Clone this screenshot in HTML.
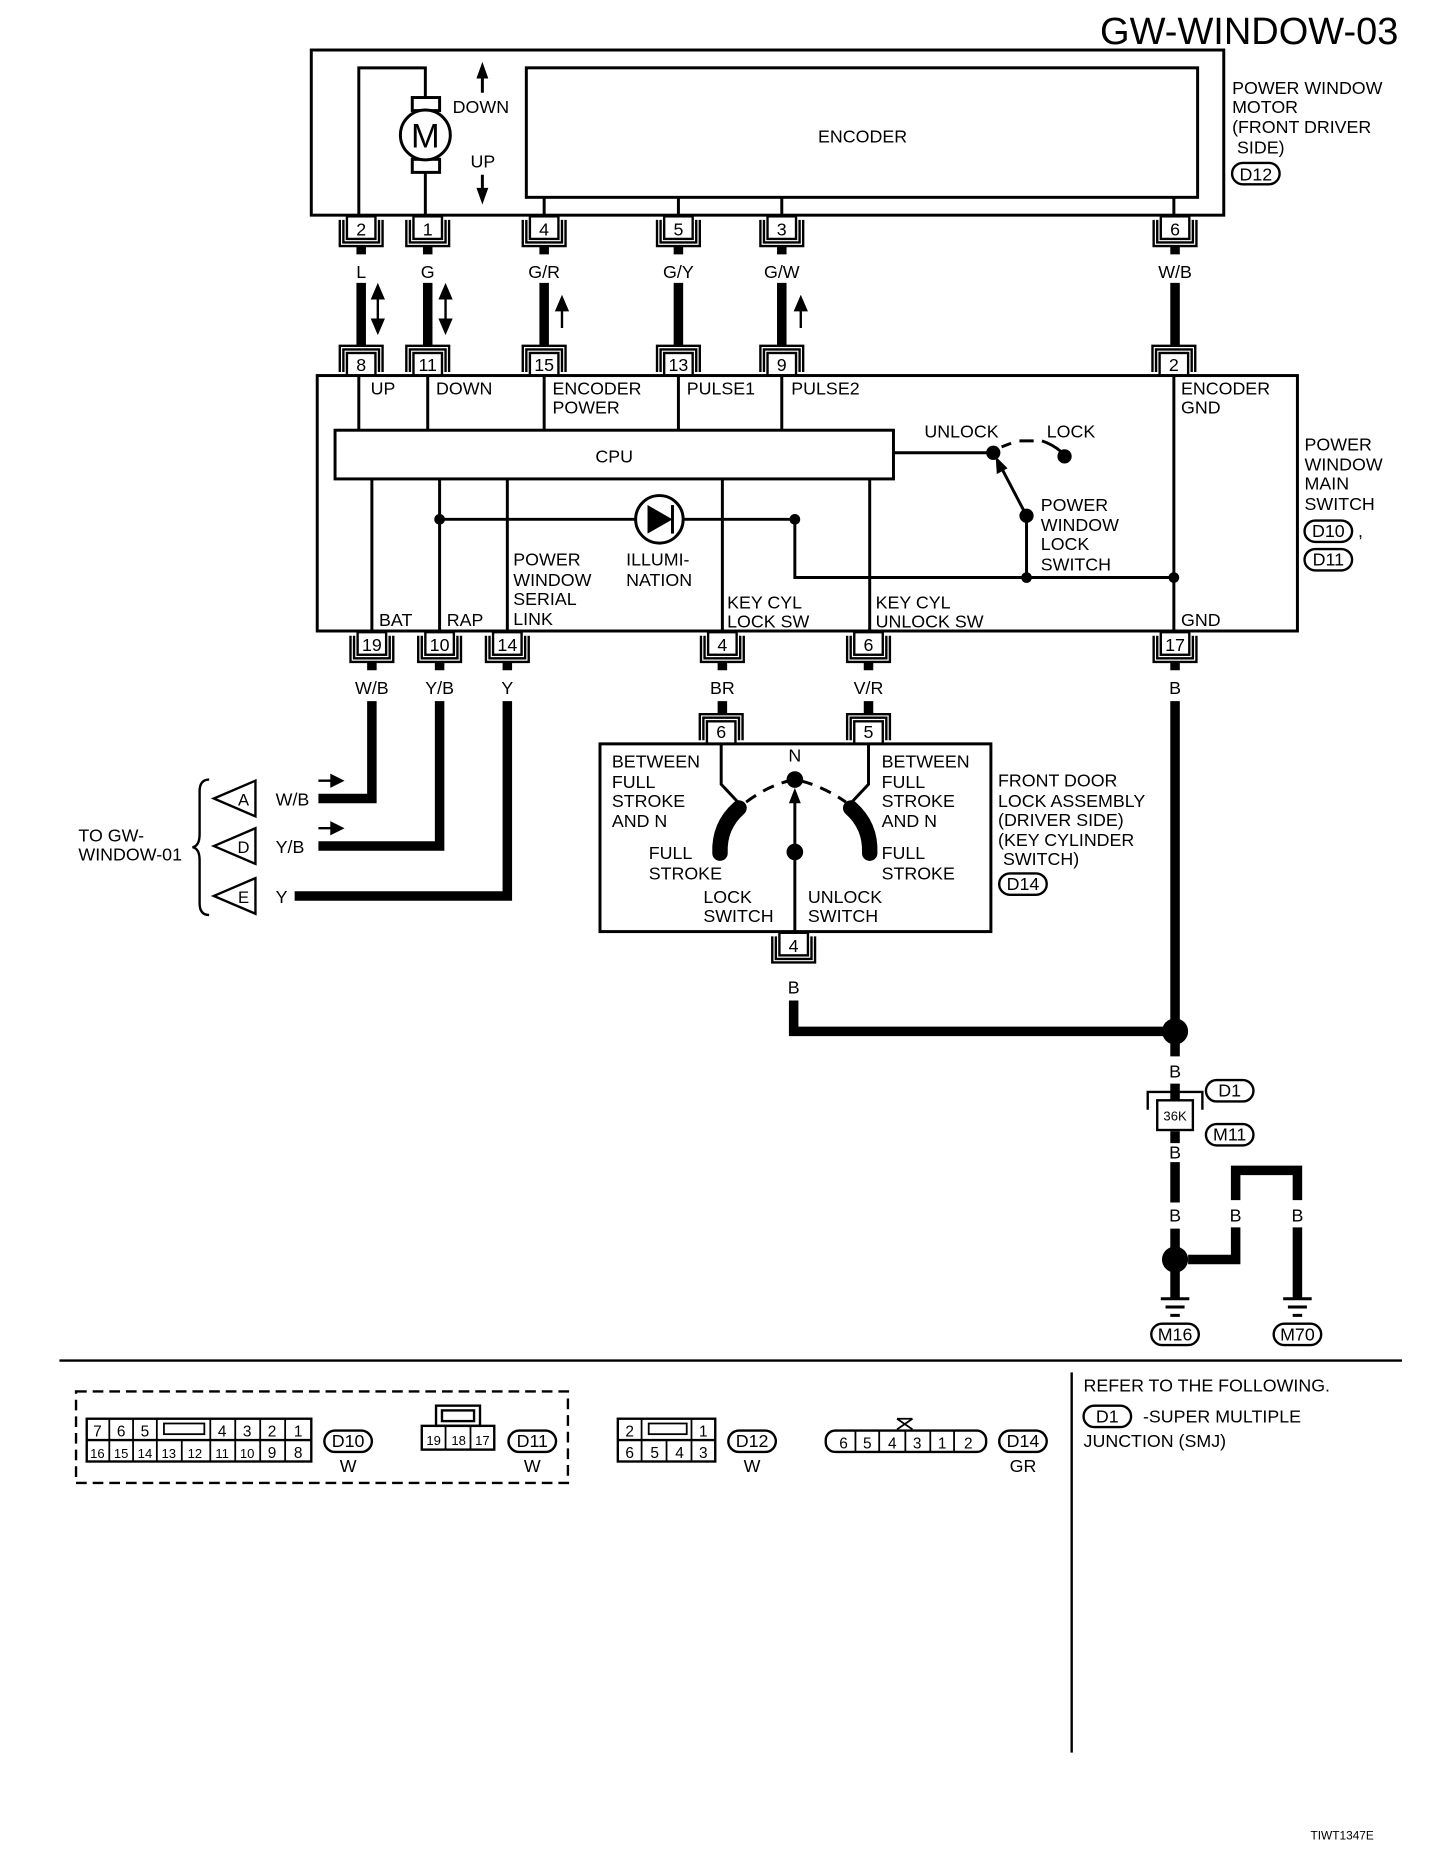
<!DOCTYPE html>
<html><head><meta charset="utf-8"><style>
html,body{margin:0;padding:0;background:#fff;}
svg{display:block;}
text{font-family:"Liberation Sans",Arial,sans-serif;fill:#000;}
</style></head><body>
<svg width="1440" height="1862" viewBox="0 0 1212 1567" xmlns="http://www.w3.org/2000/svg">
<defs>
<g id="ch" fill="none" stroke="#000" stroke-width="2">
<rect x="-12" y="0" width="24" height="19" fill="#fff"/>
<path d="M-18,3 V25 H18 V3 M-15,3 V22 H15 V3"/>
</g>
<g id="cu" fill="none" stroke="#000" stroke-width="2">
<rect x="-12" y="-19" width="24" height="19" fill="#fff"/>
<path d="M-18,-3 V-25 H18 V-3 M-15,-3 V-22 H15 V-3"/>
</g>
</defs>

<g font-size="15">
<text x="1177" y="37" font-size="32" text-anchor="end">GW-WINDOW-03</text>

<g fill="none" stroke="#000" stroke-width="2.5">
<rect x="262" y="42" width="768" height="139"/>
<rect x="443" y="57" width="565" height="109"/>
<path d="M302,181 V57 H358 V82 M358,145 V181"/>
<rect x="347" y="82" width="23" height="11" fill="#fff"/>
<rect x="347" y="134" width="23" height="11" fill="#fff"/>
<circle cx="358" cy="113.5" r="21" fill="#fff"/>
<path d="M458,166 V181 M571,166 V181 M658,166 V181 M988,166 V181"/>
<path d="M406,57 V78 M406,147 V166"/>
</g>
<path d="M406,52 l-5,14 h10z M406,172 l-5,-14 h10z"/>
<text x="358" y="124" font-size="29" text-anchor="middle">M</text>
<text x="381" y="95">DOWN</text>
<text x="396" y="141">UP</text>
<text x="726" y="120" text-anchor="middle">ENCODER</text>

<g>
<use href="#ch" x="304" y="182"/><text x="304" y="198" text-anchor="middle">2</text>
<use href="#ch" x="360" y="182"/><text x="360" y="198" text-anchor="middle">1</text>
<use href="#ch" x="458" y="182"/><text x="458" y="198" text-anchor="middle">4</text>
<use href="#ch" x="571" y="182"/><text x="571" y="198" text-anchor="middle">5</text>
<use href="#ch" x="658" y="182"/><text x="658" y="198" text-anchor="middle">3</text>
<use href="#ch" x="989" y="182"/><text x="989" y="198" text-anchor="middle">6</text>
</g>
<text x="1037" y="79">POWER WINDOW</text>
<text x="1037" y="95">MOTOR</text>
<text x="1037" y="112">(FRONT DRIVER</text>
<text x="1037" y="129">&#160;SIDE)</text>
<rect x="1037" y="137" width="40" height="18" rx="9" fill="none" stroke="#000" stroke-width="2"/><text x="1057" y="152" text-anchor="middle">D12</text>

<g stroke="#000" stroke-width="8">
<path d="M304,207 V214 M304,238 V291 M360,207 V214 M360,238 V291 M458,207 V214 M458,238 V291 M571,207 V214 M571,238 V291 M658,207 V214 M658,238 V291 M989,207 V214 M989,238 V291"/>
</g>
<g text-anchor="middle">
<text x="304" y="234">L</text><text x="360" y="234">G</text><text x="458" y="234">G/R</text><text x="571" y="234">G/Y</text><text x="658" y="234">G/W</text><text x="989" y="234">W/B</text>
</g>
<g stroke="#000" stroke-width="2"><path d="M318,250 V270 M375,250 V270 M473,258 V276 M674,258 V276"/></g>
<path d="M318,238 l-6,14 h12z M318,282 l-6,-14 h12z M375,238 l-6,14 h12z M375,282 l-6,-14 h12z M473,248 l-6,14 h12z M674,248 l-6,14 h12z"/>

<g>
<use href="#cu" x="304" y="316"/><text x="304" y="312" text-anchor="middle">8</text>
<use href="#cu" x="360" y="316"/><text x="360" y="312" text-anchor="middle">11</text>
<use href="#cu" x="458" y="316"/><text x="458" y="312" text-anchor="middle">15</text>
<use href="#cu" x="571" y="316"/><text x="571" y="312" text-anchor="middle">13</text>
<use href="#cu" x="658" y="316"/><text x="658" y="312" text-anchor="middle">9</text>
<use href="#cu" x="988" y="316"/><text x="988" y="312" text-anchor="middle">2</text>
</g>

<g fill="none" stroke="#000" stroke-width="2.5">
<rect x="267" y="316" width="825" height="215"/>
<rect x="282" y="362" width="470" height="41" fill="#fff"/>
<path d="M302,316 V362 M360,316 V362 M458,316 V362 M571,316 V362 M658,316 V362 M988,316 V531"/>
<path d="M313,403 V531 M370,403 V531 M427,403 V531 M608,403 V531 M732,403 V531"/>
<path d="M370,437 H669 V486 H988 M864,486 V434 L842,392 M752,381 H835"/>
<circle cx="555" cy="437" r="20" fill="#fff"/>
<path d="M843,376 L851,373 M858,371 H870 M877,371 Q886,374 893,380"/>
</g>
<path d="M545,425 V449 L566,437z"/><path d="M566,425 V449" stroke="#000" stroke-width="2.5"/>
<path d="M838,384 l1,15 l9,-5z"/>
<g>
<circle cx="370" cy="437" r="4.5"/><circle cx="669" cy="437" r="4.5"/><circle cx="864" cy="486" r="4.5"/><circle cx="988" cy="486" r="4.5"/><circle cx="864" cy="434" r="6"/><circle cx="836" cy="381" r="6"/><circle cx="896" cy="384" r="6"/>
</g>
<text x="312" y="332">UP</text><text x="367" y="332">DOWN</text>
<text x="465" y="332">ENCODER</text><text x="465" y="348">POWER</text>
<text x="578" y="332">PULSE1</text><text x="666" y="332">PULSE2</text>
<text x="994" y="332">ENCODER</text><text x="994" y="348">GND</text>
<text x="517" y="389" text-anchor="middle">CPU</text>
<text x="778" y="368">UNLOCK</text><text x="881" y="368">LOCK</text>
<text x="876" y="430">POWER</text><text x="876" y="447">WINDOW</text><text x="876" y="463">LOCK</text><text x="876" y="480">SWITCH</text>
<text x="432" y="476">POWER</text><text x="432" y="493">WINDOW</text><text x="432" y="509">SERIAL</text><text x="432" y="526">LINK</text>
<text x="527" y="476">ILLUMI-</text><text x="527" y="493">NATION</text>
<text x="612" y="512">KEY CYL</text><text x="612" y="528">LOCK SW</text>
<text x="737" y="512">KEY CYL</text><text x="737" y="528">UNLOCK SW</text>
<text x="319" y="527">BAT</text><text x="376" y="527">RAP</text><text x="994" y="527">GND</text>
<text x="1098" y="379">POWER</text><text x="1098" y="396">WINDOW</text><text x="1098" y="412">MAIN</text><text x="1098" y="429">SWITCH</text>
<rect x="1098" y="438" width="40" height="18" rx="9" fill="none" stroke="#000" stroke-width="2"/><text x="1118" y="452" text-anchor="middle">D10</text><text x="1143" y="452">,</text>
<rect x="1098" y="462" width="40" height="18" rx="9" fill="none" stroke="#000" stroke-width="2"/><text x="1118" y="476" text-anchor="middle">D11</text>

<g>
<use href="#ch" x="313" y="532"/><text x="313" y="548" text-anchor="middle">19</text>
<use href="#ch" x="370" y="532"/><text x="370" y="548" text-anchor="middle">10</text>
<use href="#ch" x="427" y="532"/><text x="427" y="548" text-anchor="middle">14</text>
<use href="#ch" x="608" y="532"/><text x="608" y="548" text-anchor="middle">4</text>
<use href="#ch" x="731" y="532"/><text x="731" y="548" text-anchor="middle">6</text>
<use href="#ch" x="989" y="532"/><text x="989" y="548" text-anchor="middle">17</text>
</g>
<g text-anchor="middle">
<text x="313" y="584">W/B</text><text x="370" y="584">Y/B</text><text x="427" y="584">Y</text><text x="608" y="584">BR</text><text x="731" y="584">V/R</text><text x="989" y="584">B</text>
</g>
<g fill="none" stroke="#000" stroke-width="8">
<path d="M313,557 V564 M370,557 V564 M427,557 V564 M608,557 V564 M731,557 V564 M989,557 V564"/>
<path d="M313,590 V672 H268 M370,590 V712 H268 M427,590 V754 H248 M989,590 V868 M608,590 V600 M731,590 V600 M668,842 V868 H989"/>
</g>
<circle cx="989" cy="868" r="11"/>
<g stroke="#000" stroke-width="2"><path d="M268,657 H282 M268,697 H282"/></g>
<path d="M290,657 l-12,-6 v12z M290,697 l-12,-6 v12z"/>
<g fill="#fff" stroke="#000" stroke-width="2">
<path d="M180,672 L215,657 V687z"/><path d="M180,712 L215,697 V727z"/><path d="M180,754 L215,739 V769z"/>
</g>
<text x="205" y="678" text-anchor="middle" font-size="14">A</text><text x="205" y="718" text-anchor="middle" font-size="14">D</text><text x="205" y="760" text-anchor="middle" font-size="14">E</text>
<text x="232" y="678">W/B</text><text x="232" y="718">Y/B</text><text x="232" y="760">Y</text>
<path d="M176,656 Q168,656 168,666 V702 Q168,712 162,713 Q168,714 168,724 V760 Q168,770 176,770" fill="none" stroke="#000" stroke-width="2"/>
<text x="66" y="708">TO GW-</text><text x="66" y="724">WINDOW-01</text>

<use href="#cu" x="607" y="626"/><text x="607" y="621" text-anchor="middle">6</text>
<use href="#cu" x="731" y="626"/><text x="731" y="621" text-anchor="middle">5</text>
<g fill="none" stroke="#000" stroke-width="2.5">
<rect x="505" y="626" width="329" height="158"/>
<path d="M607,626 V660 L622,676 M731,626 V660 L716,676 M669,784 V670"/>
<path d="M628,675 Q648,660 669,656 Q690,660 712,675" stroke-dasharray="10,7"/>
</g>
<path d="M622,680 Q605,695 606,718" fill="none" stroke="#000" stroke-width="13" stroke-linecap="round"/>
<path d="M716,680 Q733,695 732,718" fill="none" stroke="#000" stroke-width="13" stroke-linecap="round"/>
<circle cx="669" cy="656" r="7"/><circle cx="669" cy="717" r="7"/>
<path d="M669,663 l-5,13 h10z"/>
<use href="#ch" x="668" y="785"/><text x="668" y="801" text-anchor="middle">4</text>
<text x="668" y="836" text-anchor="middle">B</text>
<text x="669" y="641" text-anchor="middle">N</text>
<text x="515" y="646">BETWEEN</text><text x="515" y="663">FULL</text><text x="515" y="679">STROKE</text><text x="515" y="696">AND N</text>
<text x="742" y="646">BETWEEN</text><text x="742" y="663">FULL</text><text x="742" y="679">STROKE</text><text x="742" y="696">AND N</text>
<text x="546" y="723">FULL</text><text x="546" y="740">STROKE</text>
<text x="742" y="723">FULL</text><text x="742" y="740">STROKE</text>
<text x="592" y="760">LOCK</text><text x="592" y="776">SWITCH</text>
<text x="680" y="760">UNLOCK</text><text x="680" y="776">SWITCH</text>
<text x="840" y="662">FRONT DOOR</text><text x="840" y="679">LOCK ASSEMBLY</text><text x="840" y="695">(DRIVER SIDE)</text><text x="840" y="712">(KEY CYLINDER</text><text x="840" y="728">&#160;SWITCH)</text>
<rect x="841" y="735" width="40" height="18" rx="9" fill="none" stroke="#000" stroke-width="2"/><text x="861" y="749" text-anchor="middle">D14</text>

<g fill="none" stroke="#000" stroke-width="8">
<path d="M989,875 V889 M989,912 V926 M989,952 V962 M989,978 V1012 M989,1034 V1052 M989,1068 V1092"/>
<path d="M1000,1060 H1040 V1033 M1040,1010 V985 H1092 V1010 M1092,1033 V1092"/>
</g>
<circle cx="989" cy="1060" r="11"/>
<g stroke="#000" stroke-width="2.5">
<path d="M977,1093 H1001 M981,1100 H997 M985,1107 H993 M1080,1093 H1104 M1084,1100 H1100 M1088,1107 H1096"/></g>
<path d="M966,934 V919 H1012 V934" fill="none" stroke="#000" stroke-width="2"/>
<rect x="974" y="926" width="30" height="25" fill="#fff" stroke="#000" stroke-width="2"/>
<text x="989" y="943" text-anchor="middle" font-size="11">36K</text>
<text x="989" y="907" text-anchor="middle">B</text><text x="989" y="975" text-anchor="middle">B</text>
<text x="989" y="1028" text-anchor="middle">B</text><text x="1040" y="1028" text-anchor="middle">B</text><text x="1092" y="1028" text-anchor="middle">B</text>
<rect x="1015" y="909" width="40" height="18" rx="9" fill="none" stroke="#000" stroke-width="2"/><text x="1035" y="923" text-anchor="middle">D1</text>
<rect x="1015" y="946" width="40" height="18" rx="9" fill="none" stroke="#000" stroke-width="2"/><text x="1035" y="960" text-anchor="middle">M11</text>
<rect x="969" y="1114" width="40" height="18" rx="9" fill="none" stroke="#000" stroke-width="2"/><text x="989" y="1128" text-anchor="middle">M16</text>
<rect x="1072" y="1114" width="40" height="18" rx="9" fill="none" stroke="#000" stroke-width="2"/><text x="1092" y="1128" text-anchor="middle">M70</text>

<g stroke="#000" stroke-width="2" fill="none">
<path d="M50,1145 H1180 M902,1155 V1475"/>
<rect x="64" y="1171" width="414" height="77" stroke-dasharray="9,5"/>
<rect x="73" y="1194" width="189" height="36"/><path d="M73,1212 H262"/>
<rect x="355" y="1200" width="61" height="20"/><rect x="367" y="1183" width="37" height="17"/><rect x="372" y="1187" width="27" height="9"/>
<rect x="520" y="1194" width="82" height="36"/><path d="M520,1212 H602"/>
<rect x="695" y="1204" width="135" height="18" rx="8"/>
</g>
<g stroke="#000" stroke-width="1.5" fill="none">
<path d="M92,1194 V1212 M112,1194 V1212 M132,1194 V1212 M177,1194 V1212 M198,1194 V1212 M219,1194 V1212 M240,1194 V1212"/>
<rect x="138" y="1198" width="34" height="9"/>
<path d="M92,1212 V1230 M112,1212 V1230 M132,1212 V1230 M153,1212 V1230 M177,1212 V1230 M198,1212 V1230 M219,1212 V1230 M240,1212 V1230"/>
<path d="M375,1200 V1220 M396,1200 V1220"/>
<path d="M540,1194 V1212 M582,1194 V1212"/><rect x="546" y="1198" width="32" height="9"/>
<path d="M540,1212 V1230 M561,1212 V1230 M582,1212 V1230"/>
<path d="M720,1204 V1222 M740,1204 V1222 M762,1204 V1222 M783,1204 V1222 M803,1204 V1222"/>
<path d="M755,1194 L768,1203 M768,1194 L755,1203 M755,1194 H768"/>
</g>
<g font-size="13" text-anchor="middle">
<text x="82" y="1209">7</text><text x="102" y="1209">6</text><text x="122" y="1209">5</text><text x="187" y="1209">4</text><text x="208" y="1209">3</text><text x="229" y="1209">2</text><text x="251" y="1209">1</text>
<text x="82" y="1227" font-size="11">16</text><text x="102" y="1227" font-size="11">15</text><text x="122" y="1227" font-size="11">14</text><text x="142" y="1227" font-size="11">13</text><text x="164" y="1227" font-size="11">12</text><text x="187" y="1227" font-size="11">11</text><text x="208" y="1227" font-size="11">10</text><text x="229" y="1227">9</text><text x="251" y="1227">8</text>
<text x="365" y="1216" font-size="11">19</text><text x="386" y="1216" font-size="11">18</text><text x="406" y="1216" font-size="11">17</text>
<text x="530" y="1209">2</text><text x="592" y="1209">1</text>
<text x="530" y="1227">6</text><text x="551" y="1227">5</text><text x="572" y="1227">4</text><text x="592" y="1227">3</text>
<text x="710" y="1219">6</text><text x="730" y="1219">5</text><text x="751" y="1219">4</text><text x="772" y="1219">3</text><text x="793" y="1219">1</text><text x="815" y="1219">2</text>
</g>
<rect x="273" y="1204" width="40" height="18" rx="9" fill="none" stroke="#000" stroke-width="2"/><text x="293" y="1218" text-anchor="middle">D10</text><text x="293" y="1239" text-anchor="middle">W</text>
<rect x="428" y="1204" width="40" height="18" rx="9" fill="none" stroke="#000" stroke-width="2"/><text x="448" y="1218" text-anchor="middle">D11</text><text x="448" y="1239" text-anchor="middle">W</text>
<rect x="613" y="1204" width="40" height="18" rx="9" fill="none" stroke="#000" stroke-width="2"/><text x="633" y="1218" text-anchor="middle">D12</text><text x="633" y="1239" text-anchor="middle">W</text>
<rect x="841" y="1204" width="40" height="18" rx="9" fill="none" stroke="#000" stroke-width="2"/><text x="861" y="1218" text-anchor="middle">D14</text><text x="861" y="1239" text-anchor="middle">GR</text>
<text x="912" y="1171">REFER TO THE FOLLOWING.</text>
<rect x="912" y="1183" width="40" height="18" rx="9" fill="none" stroke="#000" stroke-width="2"/><text x="932" y="1197" text-anchor="middle">D1</text>
<text x="962" y="1197">-SUPER MULTIPLE</text><text x="912" y="1218">JUNCTION (SMJ)</text>
<text x="1103" y="1548" font-size="10">TIWT1347E</text>
</g>
</svg>
</body></html>
